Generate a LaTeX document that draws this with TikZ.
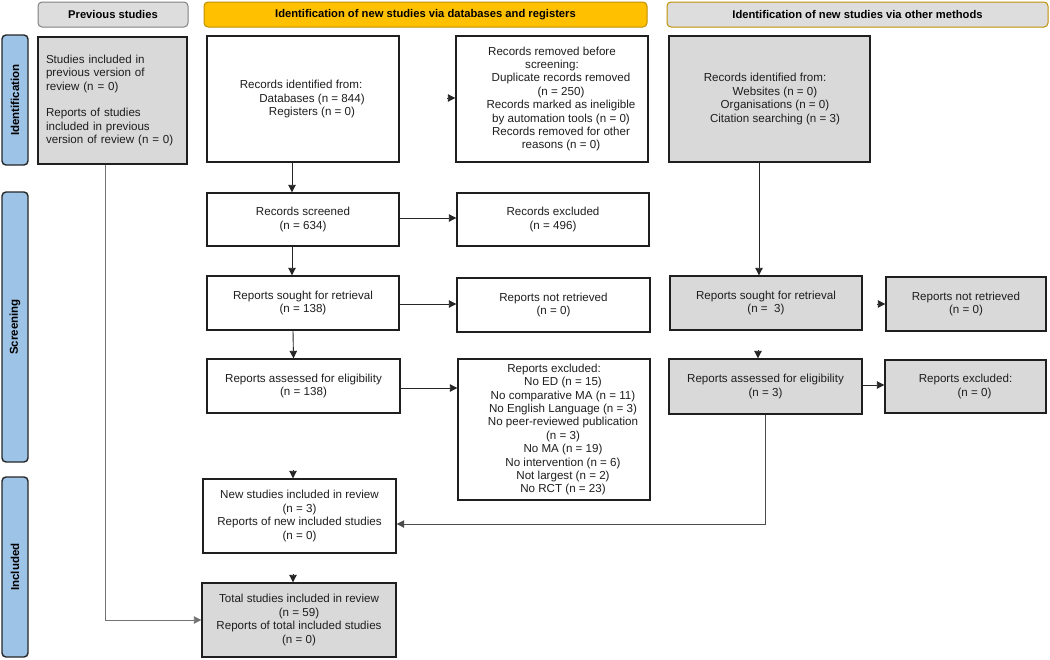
\documentclass[tikz,border=0pt]{standalone}
\usepackage{fontspec}
\usepackage{graphicx}
\setmainfont{Liberation Sans}
\usetikzlibrary{arrows.meta,calc}
\definecolor{hgray}{HTML}{DDDDDD}
\definecolor{bgray}{HTML}{D9D9D9}
\definecolor{gold}{HTML}{FFC000}
\definecolor{goldline}{HTML}{BF9000}
\definecolor{sideblue}{HTML}{9DC3E6}
\definecolor{txt}{HTML}{1E1E1E}
\tikzset{
  box/.style={draw=black!88, line width=1.4pt, fill=white, align=center, inner sep=0pt,
    text=txt, font=\fontsize{11.6}{13.4}\selectfont},
  graybox/.style={box, fill=bgray},
  hdr/.style={rounded corners=4pt, line width=1pt, inner sep=0pt, align=center,
    font=\bfseries\fontsize{11.2}{12}\selectfont, text=black, minimum height=25pt},
  side/.style={draw=black!85, line width=1.4pt, fill=sideblue, rounded corners=4pt,
    inner sep=0pt, minimum width=26pt, font=\bfseries\fontsize{11.5}{12}\selectfont},
  arr/.style={draw=black!85, line width=0.9pt, -{Triangle[length=7.5pt,width=7.5pt]}},
  garr/.style={arr, draw=black!55},
}
\begin{document}
\begin{tikzpicture}[x=1pt,y=-1pt]
\useasboundingbox (0,0) rectangle (1050,659);

% headers
\node[hdr, draw=black!50, fill=hgray, minimum width=150pt] (hprev) at (113,14.5) {Previous studies};
\node[hdr, draw=goldline, fill=gold, minimum width=443pt] (hdb) at (425.5,14.5) {Identification of new studies via databases and registers};
\node[hdr, draw=goldline, fill=hgray, minimum width=381pt] (hoth) at (857.5,14.5) {Identification of new studies via other methods};

% side bars
\node[side, minimum height=130pt] (sid) at (15,100) {\rotatebox{90}{Identification}};
\node[side, minimum height=270pt] (ssc) at (15,327) {\rotatebox{90}{Screening}};
\node[side, minimum height=180pt] (sin) at (15,567) {\rotatebox{90}{Included}};

% previous studies
\node[graybox, minimum width=149pt, minimum height=127pt, text width=133pt, align=left] (prev) at (112.5,100.5)
 {Studies included in\\previous version of\\review (n = 0)\\[13.4pt]Reports of studies\\included in previous\\version of review (n = 0)};

% databases column
\node[box, minimum width=192pt, minimum height=126pt] (rid) at (303,99)
 {Records identified from:\hspace*{4pt}\mbox{}\\\hspace*{18pt}Databases (n = 844)\\\hspace*{18pt}Registers (n = 0)};
\node[box, minimum width=192pt, minimum height=126pt] (rrem) at (552,99)
 {Records removed before\\screening:\\\hspace*{18pt}Duplicate records removed\\\hspace*{18pt}(n = 250)\\\hspace*{18pt}Records marked as ineligible\\\hspace*{18pt}by automation tools (n = 0)\\\hspace*{18pt}Records removed for other\\\hspace*{18pt}reasons (n = 0)};
\node[box, minimum width=192pt, minimum height=53pt] (scr) at (303,219.5) {Records screened\\(n = 634)};
\node[box, minimum width=192pt, minimum height=53pt] (rexc) at (553,219.5) {Records excluded\\(n = 496)};
\node[box, minimum width=192pt, minimum height=54pt] (sought) at (303,303) {Reports sought for retrieval\\(n = 138)};
\node[box, minimum width=193pt, minimum height=54pt] (notret) at (553.5,305) {Reports not retrieved\\(n = 0)};
\node[box, minimum width=193pt, minimum height=54pt] (assess) at (303.5,386) {Reports assessed for eligibility\\(n = 138)};
\node[box, minimum width=192pt, minimum height=141pt] (repexc) at (554,429.5)
 {Reports excluded:\\\hspace*{18pt}No ED (n = 15)\\\hspace*{18pt}No comparative MA (n = 11)\\\hspace*{18pt}No English Language (n = 3)\\\hspace*{18pt}No peer-reviewed publication\\\hspace*{18pt}(n = 3)\\\hspace*{18pt}No MA (n = 19)\\\hspace*{18pt}No intervention (n = 6)\\\hspace*{18pt}Not largest (n = 2)\\\hspace*{18pt}No RCT (n = 23)};

% other methods column
\node[graybox, minimum width=201pt, minimum height=126pt] (orid) at (769.5,99)
 {Records identified from:\hspace*{9pt}\mbox{}\\\hspace*{11pt}Websites (n = 0)\\\hspace*{11pt}Organisations (n = 0)\\\hspace*{11pt}Citation searching (n = 3)};
\node[graybox, minimum width=192pt, minimum height=54pt] (osought) at (766,303) {Reports sought for retrieval\\(n =~~3)};
\node[graybox, minimum width=160pt, minimum height=54pt] (onotret) at (966,304) {Reports not retrieved\\(n = 0)};
\node[graybox, minimum width=193pt, minimum height=55pt] (oassess) at (765.5,386.5) {Reports assessed for eligibility\\(n = 3)};
\node[graybox, minimum width=161pt, minimum height=53pt] (oexc) at (965.5,386.5) {Reports excluded:\\\hspace*{18pt}(n = 0)};

% included
\node[box, minimum width=193pt, minimum height=74pt] (newst) at (299.5,516)
 {New studies included in review\\(n = 3)\\Reports of new included studies\\(n = 0)};
\node[graybox, minimum width=194pt, minimum height=74pt] (total) at (299,620)
 {Total studies included in review\\(n = 59)\\Reports of total included studies\\(n = 0)};

% connectors: databases column
\draw[arr] ([xshift=-11pt]rid.south) -- ([xshift=-11pt]scr.north);
\draw[arr] ([xshift=-8pt,yshift=1pt]rrem.west) -- ([yshift=1pt]rrem.west);
\draw[arr] ([yshift=1.5pt]scr.east) -- ([yshift=1.5pt]scr.east -| rexc.west);
\draw[arr] ([xshift=-11pt]scr.south) -- ([xshift=-11pt]sought.north);
\draw[arr] ([yshift=-1pt]sought.east) -- ([yshift=-1pt]sought.east -| notret.west);
\draw[arr] ([xshift=-10pt]sought.south) -- ([xshift=-10pt]assess.north);
\draw[arr] ([yshift=-2pt]assess.east) -- ([yshift=-2pt]assess.east -| repexc.west);
\draw[arr] ([xshift=-6.5pt,yshift=8pt]newst.north) -- ([xshift=-6.5pt]newst.north);
\draw[arr] ([xshift=-6pt,yshift=8pt]total.north) -- ([xshift=-6pt]total.north);

% connectors: previous studies
\draw[garr] ([xshift=-7.5pt]prev.south) |- (total.west);

% connectors: other methods
\draw[arr] ([xshift=-10.5pt]orid.south) -- ([xshift=-10.5pt]orid.south |- osought.north);
\draw[arr] ([xshift=-8pt]onotret.west) -- (onotret.west);
\draw[arr] ([xshift=-7.5pt,yshift=8pt]oassess.north) -- ([xshift=-7.5pt]oassess.north);
\draw[arr] ([yshift=1.5pt]oassess.east) -- ([yshift=1.5pt]oassess.east -| oexc.west);
\draw[arr, draw=black!70] (oassess.south) |- ([yshift=-8pt]newst.east);
\end{tikzpicture}
\end{document}
